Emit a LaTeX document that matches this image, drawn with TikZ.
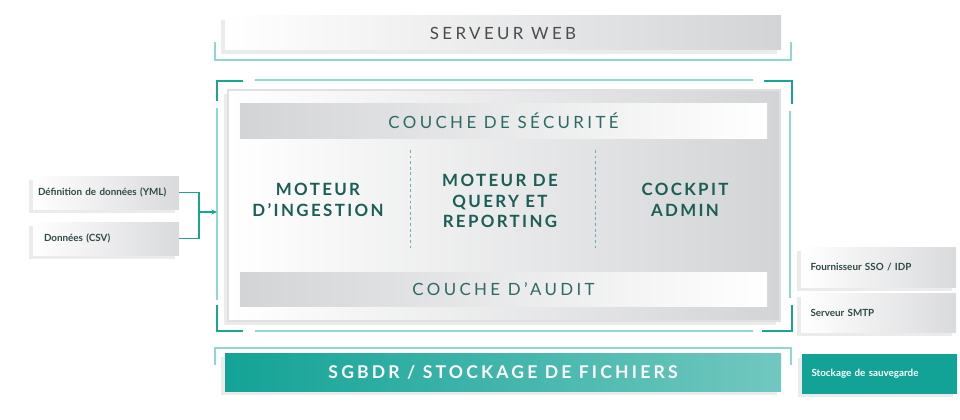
\documentclass[tikz,border=0pt]{standalone}
\usepackage{fontspec}
\setmainfont{Lato}
\newfontfamily\spaced[LetterSpace=20]{Lato}
\newfontfamily\spacedbold[LetterSpace=14]{Lato Bold}
\newfontfamily\widebold[LetterSpace=18]{Lato Bold}
\usetikzlibrary{shadows,arrows.meta}
\definecolor{tealdark}{HTML}{17A596}
\definecolor{teallight}{HTML}{8ED9CF}
\definecolor{tealtext}{HTML}{2B6B63}
\definecolor{enginetext}{HTML}{1B5E56}
\definecolor{labeltext}{HTML}{2E4A47}
\definecolor{bargray}{HTML}{D3D4D6}
\definecolor{tealfill}{HTML}{13A396}
\newlength\pu
\setlength\pu{0.025cm}
\tikzset{
  softshadow/.style={drop shadow={shadow xshift=-2.5pt,shadow yshift=-3pt,fill=black,opacity=0.08}},
  layer/.style={softshadow,left color=white,right color=bargray,minimum width=556\pu,minimum height=34\pu,inner sep=0pt,font=\spaced\fontsize{12}{14}\selectfont,text=black!70},
  bar/.style={left color=bargray,right color=white,minimum width=527\pu,minimum height=34\pu,inner sep=0pt,font=\spaced\fontsize{12}{14}\selectfont,text=tealtext},
  engine/.style={align=center,font=\spacedbold\fontsize{12}{14.5}\selectfont,text=enginetext},
  sidebox/.style={softshadow,left color=white,right color=bargray!85,minimum width=152\pu,minimum height=36\pu,inner sep=0pt,text width=136\pu,align=left,font=\fontsize{7}{9}\selectfont\bfseries,text=labeltext},
  divider/.style={teal!60,dashed,dash pattern=on 2pt off 2pt,line width=0.5pt},
  thinline/.style={teallight,line width=0.8pt},
  corner/.style={tealdark,line width=2pt},
  link/.style={tealdark,line width=0.9pt}
}
\begin{document}
\begin{tikzpicture}[x=0.025cm,y=-0.025cm]
\useasboundingbox[fill=white] (0,0) rectangle (960,420);
\node[layer] (web) at (503,33) {SERVEUR WEB};
\node[softshadow,draw=black!12,line width=1.5pt,left color=white,right color=bargray,minimum width=552\pu,minimum height=231\pu,inner sep=0pt] (panel) at (504,205.5) {};
\node[bar] (secu) at (503.5,121) {COUCHE DE SÉCURITÉ};
\node[bar] (audit) at (503.5,289) {COUCHE D’AUDIT};
\node[engine] (ingest) at (318,200) {MOTEUR\\D’INGESTION};
\node[engine] (query) at (500,201) {MOTEUR DE\\QUERY ET\\REPORTING};
\node[engine] (cockpit) at (685,200) {COCKPIT\\ADMIN};
\draw[divider] (410,150) -- (410,248);
\draw[divider] (595,150) -- (595,248);
\node[layer,left color=tealfill,right color=tealfill!60!white,minimum height=38\pu,text=white,font=\widebold\fontsize{12.5}{15}\selectfont] (sgbdr) at (503,372) {SGBDR / STOCKAGE DE FICHIERS};
\draw[thinline] (215,42) |- (791,60) -- (791,42);
\draw[thinline] (215,365) |- (791,348) -- (791,365);
\draw[thinline] (255,80) -- (753,80);
\draw[thinline] (255,331) -- (753,331);
\draw[thinline] (217,108) -- (217,300);
\draw[thinline] (790,111) -- (790,298);
\draw[corner] (217,101) |- (243,81);
\draw[corner] (764,81) -| (792,104);
\draw[corner] (217,305) |- (243,331);
\draw[corner] (762,331) -| (792,305);
\node[sidebox,minimum width=146\pu,minimum height=33\pu] (yml) at (106,192.5) {Définition de données (YML)};
\node[sidebox,minimum width=146\pu,minimum height=33\pu] (csv) at (106,238.5) {\hspace*{6\pu}Données (CSV)};
\coordinate (join) at (199,212);
\coordinate (entry) at (217,212);
\draw[link] (yml.east) -| (join) |- (csv.east);
\draw[link,-{Stealth[length=4pt,width=3.5pt]}] (join) -- (entry);
\node[sidebox,minimum width=155\pu,minimum height=40\pu] (sso) at (878.5,267) {Fournisseur SSO / IDP};
\node[sidebox,minimum width=155\pu,minimum height=39\pu] (smtp) at (878.5,312.5) {Serveur SMTP};
\node[sidebox,minimum width=155\pu,minimum height=39\pu,left color=tealfill,right color=tealfill,text=white] (backup) at (879.5,373.5) {Stockage de sauvegarde};
\end{tikzpicture}
\end{document}
